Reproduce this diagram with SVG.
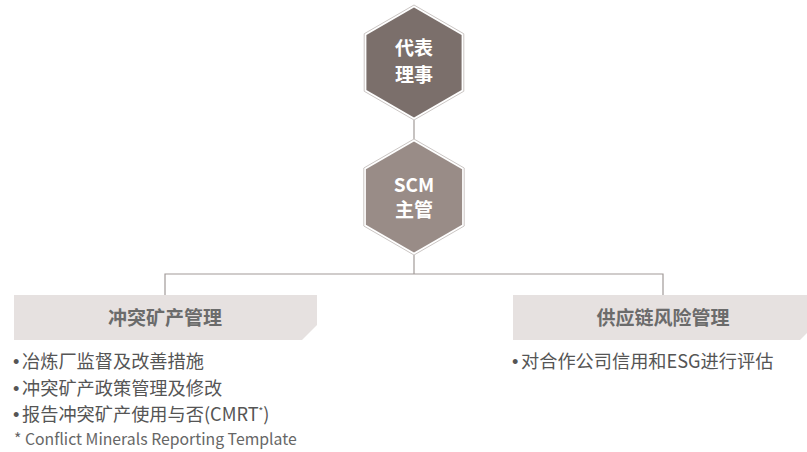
<svg xmlns="http://www.w3.org/2000/svg" width="807" height="452" viewBox="0 0 807 452">
<style>
.hexo{fill:none;stroke:#cbc6c4;stroke-width:1}
.hext{font-family:"Noto Sans CJK SC","Noto Sans",sans-serif;font-weight:bold;font-size:19px;fill:#ffffff;text-anchor:middle}
.box{fill:#e6e1e0}
.ttl{font-family:"Noto Sans CJK SC","Noto Sans",sans-serif;font-weight:bold;font-size:19px;fill:#6b6b6b;text-anchor:middle}
.itm{font-family:"Noto Sans CJK SC","Noto Sans",sans-serif;font-size:18.2px;fill:#555555}
.bul{font-family:"Liberation Sans",sans-serif}
.note{font-family:"Noto Sans CJK SC","Noto Sans",sans-serif;font-size:15.8px;fill:#666666}
.con{fill:none;stroke:#a19a98;stroke-width:1.2}
</style>
<rect width="807" height="452" fill="#ffffff"/>
<g id="connectors">
<line class="con" x1="414" y1="120" x2="414" y2="139"/>
<line class="con" x1="414" y1="255" x2="414" y2="274"/>
<polyline class="con" points="165,295 165,274 663,274 663,295"/>
</g>
<g id="node-ceo">
<polygon class="hexo" points="414,5 463.8,33.75 463.8,91.25 414,120 364.2,91.25 364.2,33.75"/>
<polygon fill="#7b6f6b" points="414,7.5 461.6,35 461.6,90 414,117.5 366.4,90 366.4,35"/>
<text class="hext" x="414" y="55">代表</text>
<text class="hext" x="414" y="82">理事</text>
</g>
<g id="node-scm">
<polygon class="hexo" points="414,139 464.2,168 464.2,226 414,255 363.8,226 363.8,168"/>
<polygon fill="#998c87" points="414,141.5 462.1,169.25 462.1,224.75 414,252.5 365.9,224.75 365.9,169.25"/>
<text class="hext" x="414" y="192">SCM</text>
<text class="hext" x="414" y="217">主管</text>
</g>
<g id="node-conflict">
<polygon class="box" points="14,295 317,295 317,325 302,340 14,340"/>
<text class="ttl" x="165" y="325">冲突矿产管理</text>
<text class="itm" y="368"><tspan class="bul" x="13">•</tspan><tspan x="22">冶炼厂监督及改善措施</tspan></text>
<text class="itm" y="395"><tspan class="bul" x="13">•</tspan><tspan x="22">冲突矿产政策管理及修改</tspan></text>
<text class="itm" y="421"><tspan class="bul" x="13">•</tspan><tspan x="22">报告冲突矿产使用与否(CMRT<tspan font-size="10" dy="-6">*</tspan><tspan dy="6">)</tspan></tspan></text>
<text class="note" x="14" y="445">* Conflict Minerals Reporting Template</text>
</g>
<g id="node-supply">
<polygon class="box" points="513,295 815,295 815,325 800,340 513,340"/>
<text class="ttl" x="663" y="325">供应链风险管理</text>
<text class="itm" y="368"><tspan class="bul" x="512">•</tspan><tspan x="521">对合作公司信用和ESG进行评估</tspan></text>
</g>
</svg>
